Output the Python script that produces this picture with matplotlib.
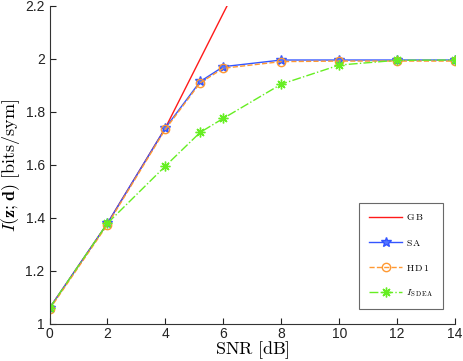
import matplotlib
matplotlib.use('Agg')
import matplotlib.pyplot as plt

matplotlib.rcParams['mathtext.fontset'] = 'cm'
matplotlib.rcParams['font.family'] = ['Liberation Sans', 'DejaVu Sans']

# data
snr_gb = [0, 2, 4, 6, 8]
i_gb = [1.06, 1.38, 1.74, 2.173, 2.6]

snr = [0, 2, 4, 5.2, 6, 8, 10, 12, 14]
i_sa = [1.06, 1.38, 1.74, 1.915, 1.971, 1.996, 1.996, 1.996, 1.996]
i_hd1 = [1.055, 1.375, 1.735, 1.91, 1.965, 1.99, 1.992, 1.992, 1.992]
i_sdea = [1.06, 1.38, 1.596, 1.723, 1.776, 1.905, 1.977, 1.995, 1.996]

x_ticks = [0, 2, 4, 6, 8, 10, 12, 14]
y_ticks = [1, 1.2, 1.4, 1.6, 1.8, 2, 2.2]
y_tick_labels = ['1', '1.2', '1.4', '1.6', '1.8', '2', '2.2']

fig = plt.figure(figsize=(4.63, 3.61), dpi=100)
ax = fig.add_axes([0.107, 0.1025, 0.876, 0.881])

ax.plot(snr_gb, i_gb, color='#ff1a1a', linewidth=1.0, label=r'$\mathrm{G\,B}$')
ax.plot(snr, i_sa, color='#3355ff', linewidth=1.0, marker='*',
        markersize=7, markerfacecolor='#5577ff', markeredgecolor='#3355ff',
        label=r'$\mathrm{S\,A}$')
ax.plot(snr, i_hd1, color='#ff9933', linewidth=1.0, linestyle='--',
        marker='o', markersize=6, markerfacecolor='none',
        markeredgecolor='#ff9933', label=r'$\mathrm{H\,D\,1}$')
ax.plot(snr, i_sdea, color='#66ee22', linewidth=1.0, linestyle='-.',
        marker=(8, 2, 0), markersize=7, markeredgecolor='#66ee22',
        label=r'$I_{\mathrm{S\,D\,E\,A}}$')

ax.set_xlim(0, 14)
ax.set_ylim(1, 2.2)
ax.set_xticks(x_ticks)
ax.set_yticks(y_ticks)
ax.set_yticklabels(y_tick_labels)
ax.tick_params(direction='in', length=4, labelsize=10, width=0.8,
               colors='#222222')
ax.tick_params(axis='x', pad=2)
for side in ['top', 'right']:
    ax.spines[side].set_visible(False)
for side in ['left', 'bottom']:
    ax.spines[side].set_color('#333333')
    ax.spines[side].set_linewidth(0.8)

ax.set_xlabel(r'$\mathrm{SNR\ [dB]}$', fontsize=13, labelpad=-1)
ax.set_ylabel(r'$I(\mathbf{z};\mathbf{d})\ \mathrm{[bits/sym]}$',
              fontsize=13, labelpad=2)

leg = ax.legend(loc='lower right', bbox_to_anchor=(0.970, 0.047),
                fontsize=7, frameon=True, fancybox=False,
                edgecolor='#444444', handlelength=3.4, labelspacing=1.55,
                borderpad=1.0, handletextpad=0.35, borderaxespad=0)
leg.get_frame().set_linewidth(0.8)

fig.savefig('out.png', dpi=100)
